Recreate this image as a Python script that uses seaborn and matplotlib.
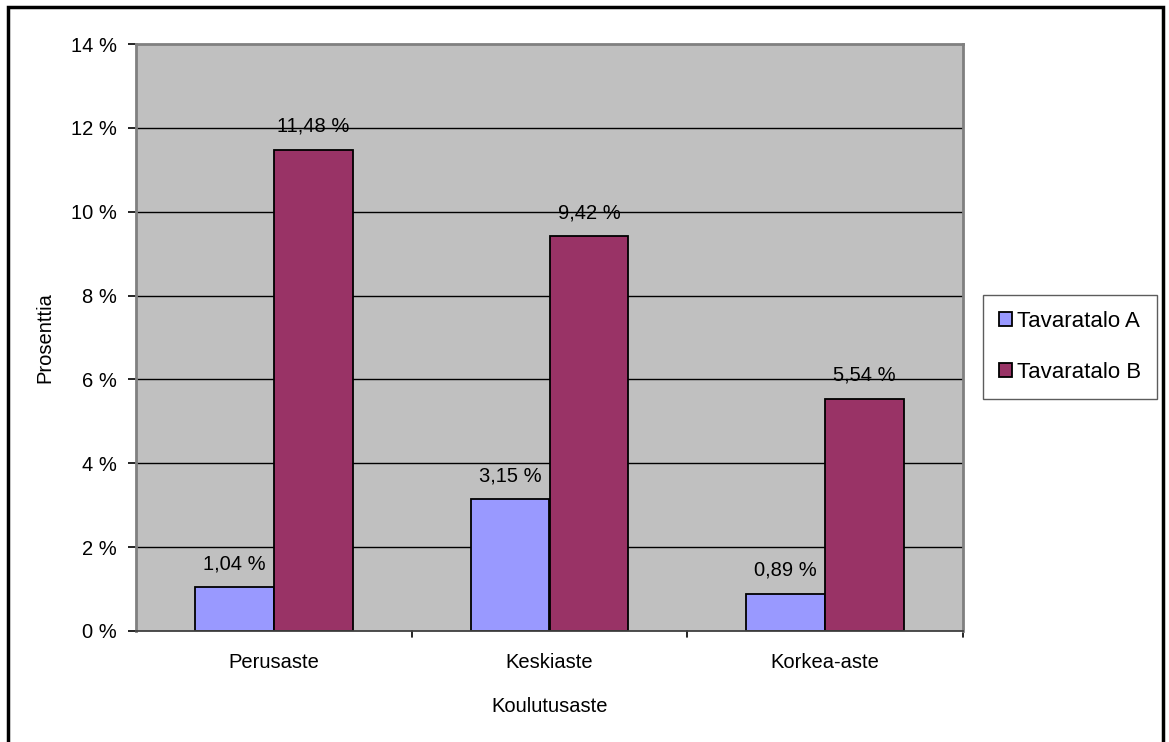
import matplotlib
matplotlib.use("Agg")
import matplotlib.pyplot as plt
from matplotlib.patches import Rectangle
import seaborn as sns
import pandas as pd

categories = ["Perusaste", "Keskiaste", "Korkea-aste"]
series_names = ["Tavaratalo A", "Tavaratalo B"]
values_a = [1.04, 3.15, 0.89]
values_b = [11.48, 9.42, 5.54]
y_ticks = [0, 2, 4, 6, 8, 10, 12, 14]
colors = ["#9999FF", "#993366"]

df = pd.DataFrame({
    "Koulutusaste": categories * 2,
    "Sarja": [series_names[0]] * 3 + [series_names[1]] * 3,
    "Arvo": values_a + values_b,
})

sns.set_theme(style="white")
plt.rcParams["font.family"] = ["Liberation Sans", "DejaVu Sans"]
plt.rcParams.update({
    "text.color": "black",
    "axes.labelcolor": "black",
    "xtick.color": "black",
    "ytick.color": "black",
})

W, H = 1169, 742
fig = plt.figure(figsize=(W / 100, H / 100), dpi=100)
fig.patch.set_facecolor("white")
ax = fig.add_axes([136 / W, 1 - 631 / H, (963 - 136) / W, (631 - 44) / H])
ax.set_facecolor("#C0C0C0")

sns.barplot(data=df, x="Koulutusaste", y="Arvo", hue="Sarja",
            order=categories, hue_order=series_names,
            palette=colors, saturation=1, width=0.573, gap=0,
            edgecolor="black", linewidth=1.3, ax=ax, legend=True)

ax.set_xlim(-0.5, 2.5)
ax.set_ylim(0, 14)
ax.set_yticks(y_ticks)
ax.set_yticklabels([f"{v} %" for v in y_ticks], fontsize=14.5)
for v in y_ticks[1:-1]:
    ax.axhline(v, color="black", lw=1.0, zorder=0.5)
ax.set_axisbelow(True)

# category labels centred under groups, tick marks at group boundaries
ax.set_xticks([0, 1, 2])
ax.set_xticklabels(categories, fontsize=14.5)
ax.tick_params(axis="x", length=0, pad=16)
for xb in [0.5, 1.5, 2.5]:
    ax.plot([xb, xb], [0, -0.15], color="black", lw=1.2, clip_on=False,
            transform=ax.transData)
ax.tick_params(axis="y", length=6, width=1.2, color="black", left=True, pad=8)

ax.set_xlabel("Koulutusaste", fontsize=14.5, labelpad=18)
ax.set_ylabel("Prosenttia", fontsize=14.5, labelpad=12)

for side in ["top", "right", "left"]:
    ax.spines[side].set_color("#808080")
    ax.spines[side].set_linewidth(2)
ax.spines["bottom"].set_color("#404040")
ax.spines["bottom"].set_linewidth(1.3)

def fmt(v):
    return f"{v:.2f}".replace(".", ",") + " %"

for container in ax.containers:
    for bar in container:
        h = bar.get_height()
        ax.annotate(fmt(h), (bar.get_x() + bar.get_width() / 2, h),
                    xytext=(0, 10), textcoords="offset points",
                    ha="center", va="bottom", fontsize=14.5, color="black")

handles, labels = ax.get_legend_handles_labels()
ax.legend_.remove()
leg = fig.legend(handles, labels, loc="center left",
                 bbox_to_anchor=(983 / W, 1 - 347 / H),
                 bbox_transform=fig.transFigure,
                 fontsize=16, frameon=True, fancybox=False, shadow=False,
                 handlelength=0.6, handleheight=0.6, handletextpad=0.25,
                 labelspacing=1.35, borderpad=0.7, borderaxespad=0)
leg.get_frame().set_edgecolor("#333333")
leg.get_frame().set_linewidth(1.0)
for hnd in leg.legend_handles:
    hnd.set_edgecolor("black")
    hnd.set_linewidth(1.3)

# outer chart border
fig.patches.append(Rectangle((7.5 / W, -0.05), (1163 - 7.5) / W, 1.05 - 6.5 / H,
                             transform=fig.transFigure, fill=False,
                             edgecolor="black", linewidth=2.5))

fig.savefig("out.png", dpi=100)
